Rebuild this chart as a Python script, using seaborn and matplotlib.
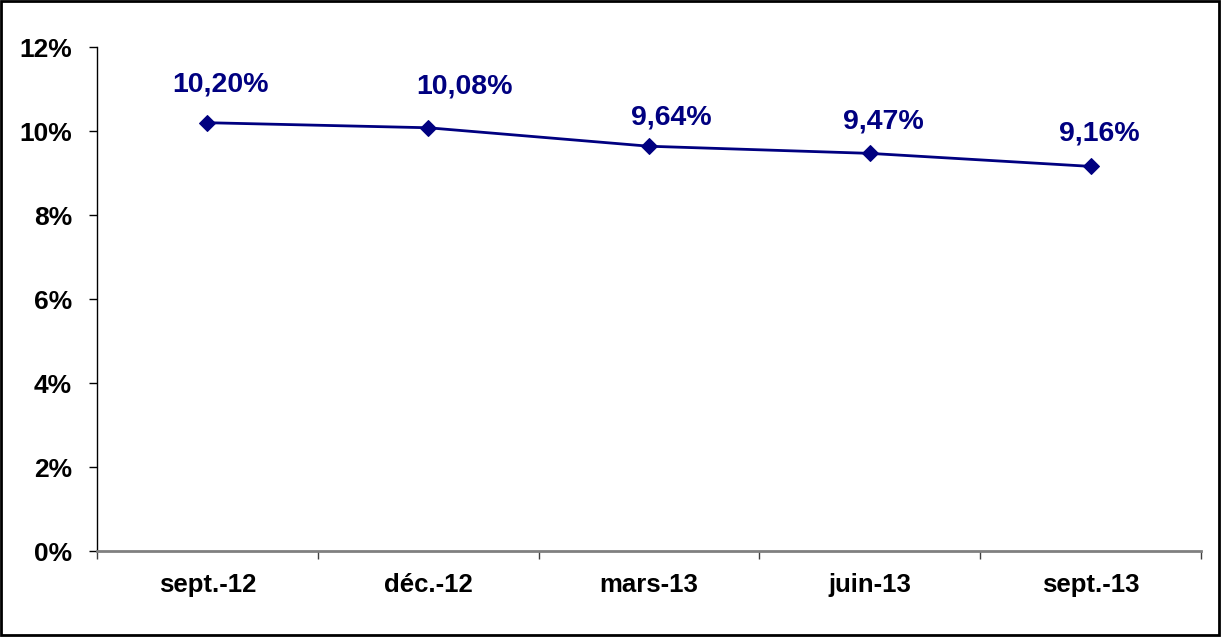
import pandas as pd
import matplotlib
matplotlib.use('Agg')
import matplotlib.pyplot as plt
import seaborn as sns
from matplotlib.patches import Rectangle
from matplotlib.ticker import FuncFormatter

# Data
periods = ['sept.-12', 'déc.-12', 'mars-13', 'juin-13', 'sept.-13']
rates = [10.20, 10.08, 9.64, 9.47, 9.16]
labels = ['10,20%', '10,08%', '9,64%', '9,47%', '9,16%']

# label placement (offset points), as placed in the original
label_dx = [9.5, 26.5, 16, 10, 6]
label_dy = [18.5, 20.5, 11, 13.3, 14]

df = pd.DataFrame({'period': periods, 'rate': rates})
df['pos'] = range(len(df))

sns.set_style('white')
plt.rcParams['font.family'] = ['Liberation Sans', 'DejaVu Sans']
plt.rcParams['font.weight'] = 'bold'

navy = '#000080'

fig = plt.figure(figsize=(12.21, 6.37), dpi=100)
ax = fig.add_axes([0.0794, 0.135, 0.9042, 0.791])

sns.lineplot(data=df, x='pos', y='rate', color=navy, linewidth=2,
             marker='D', markersize=8, markeredgecolor=navy, ax=ax)

for x, y, t, dx, dy in zip(df['pos'], df['rate'], labels, label_dx, label_dy):
    ax.annotate(t, (x, y), xytext=(dx, dy), textcoords='offset points',
                ha='center', va='bottom', color=navy,
                fontsize=20.5, fontweight='bold')

ax.set_xlim(-0.5, len(periods) - 0.5)
ax.set_ylim(0, 12)
ax.set_yticks(range(0, 13, 2))
ax.yaxis.set_major_formatter(FuncFormatter(lambda v, p: f'{v:.0f}%'))

ax.set_xticks(df['pos'])
ax.set_xticklabels(periods)
ax.set_xticks([i - 0.5 for i in range(len(periods) + 1)], minor=True)

ax.tick_params(axis='x', which='major', length=0, pad=16, labelsize=18.5,
               labelcolor='black')
ax.tick_params(axis='x', which='minor', length=6, width=1, color='#404040',
               direction='out', bottom=True)
ax.tick_params(axis='y', length=6, width=1, color='black', direction='out',
               pad=12, labelsize=19, left=True, labelcolor='black')
for lab in ax.get_xticklabels() + ax.get_yticklabels():
    lab.set_fontweight('bold')

ax.set_xlabel('')
ax.set_ylabel('')

for s in ['top', 'right']:
    ax.spines[s].set_visible(False)
ax.spines['left'].set_color('black')
ax.spines['left'].set_linewidth(1)
ax.spines['bottom'].set_color('#808080')
ax.spines['bottom'].set_linewidth(2)

fig.patches.append(Rectangle((0.001, 0.003), 0.997, 0.995,
                             transform=fig.transFigure, fill=False,
                             edgecolor='black', linewidth=2))

fig.savefig('out.png', dpi=100)
